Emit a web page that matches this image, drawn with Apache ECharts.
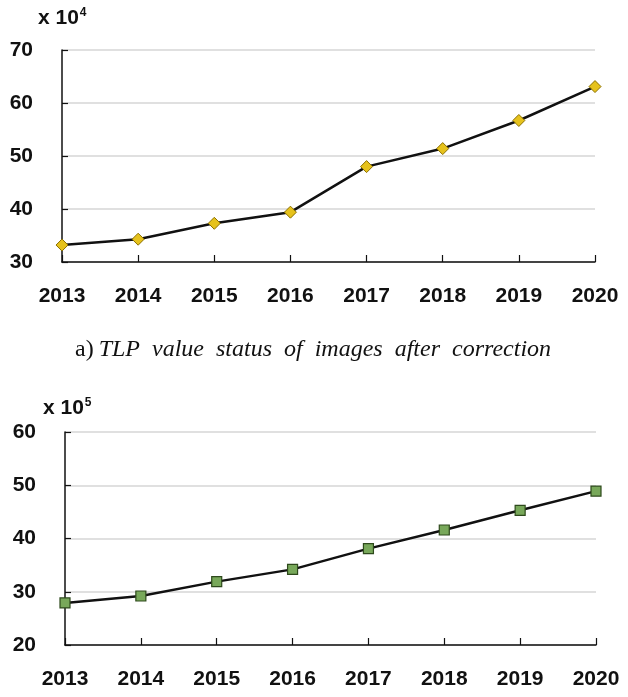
<!DOCTYPE html>
<html>
<head>
<meta charset="utf-8">
<script src="https://cdn.jsdelivr.net/npm/echarts@6/dist/echarts.min.js"></script>
<style>html,body{margin:0;padding:0;background:#fff;}#c{width:628px;height:697px;}</style>
</head>
<body>
<div id="c"></div>
<script>
const years = ['2013','2014','2015','2016','2017','2018','2019','2020'];
const tlpValues = [33.2, 34.3, 37.3, 39.4, 48.0, 51.4, 56.7, 63.1];   // x 10^4
const bottomValues = [27.9, 29.2, 31.9, 34.2, 38.1, 41.6, 45.3, 48.9]; // x 10^5
const topTicks = [30, 40, 50, 60, 70];
const bottomTicks = [20, 30, 40, 50, 60];
const topUnit = ['x 10', '4'];
const bottomUnit = ['x 10', '5'];
const caption = ['a)', 'TLP  value  status  of  images  after  correction'];

const chart = echarts.init(document.getElementById('c'), null, {renderer: 'canvas'});
const sans = 'Liberation Sans';
const labelStyle = {color: '#111', fontFamily: sans, fontWeight: 'bold', fontSize: 21};

function xAxis(gi) {
  return {
    type: 'category', gridIndex: gi, data: years, boundaryGap: false,
    axisLine: {lineStyle: {color: '#111', width: 1.5}},
    axisTick: {show: true, inside: true, length: 7, lineStyle: {color: '#111', width: 1.2}},
    axisLabel: Object.assign({margin: 24}, labelStyle),
    splitLine: {show: false}
  };
}
function yAxis(gi, ticks) {
  return {
    type: 'value', gridIndex: gi, min: ticks[0], max: ticks[ticks.length - 1],
    interval: ticks[1] - ticks[0],
    axisLine: {show: true, lineStyle: {color: '#111', width: 1.5}},
    axisTick: {show: true, inside: true, length: 6, lineStyle: {color: '#111', width: 1.2}},
    axisLabel: Object.assign({margin: 29}, labelStyle),
    splitLine: {show: true, lineStyle: {color: '#d6d6d6', width: 1.5}}
  };
}
const unitRich = {
  b: {fontFamily: sans, fontWeight: 'bold', fontSize: 21, color: '#111'},
  s: {fontFamily: sans, fontWeight: 'bold', fontSize: 12, color: '#111', padding: [0, 0, 11, 1]}
};

chart.setOption({
  animation: false,
  backgroundColor: '#fff',
  title: [
    {text: '{b|' + topUnit[0] + '}{s|' + topUnit[1] + '}', left: 33, top: 2, textStyle: {rich: unitRich}},
    {text: '{b|' + bottomUnit[0] + '}{s|' + bottomUnit[1] + '}', left: 38, top: 392, textStyle: {rich: unitRich}},
    {text: '{n|' + caption[0] + '} {i|' + caption[1] + '}', left: 70, top: 333,
      textStyle: {fontWeight: 'normal', rich: {
        n: {fontFamily: 'Liberation Serif', fontWeight: 'normal', fontSize: 24, color: '#111'},
        i: {fontFamily: 'Liberation Serif', fontWeight: 'normal', fontStyle: 'italic', fontSize: 24, color: '#111'}
      }}}
  ],
  grid: [
    {left: 62, right: 33, top: 50, height: 212},
    {left: 65, right: 32, top: 432, height: 213}
  ],
  xAxis: [xAxis(0), xAxis(1)],
  yAxis: [yAxis(0, topTicks), yAxis(1, bottomTicks)],
  series: [
    {
      type: 'line', xAxisIndex: 0, yAxisIndex: 0, data: tlpValues,
      symbol: 'diamond', symbolSize: 12,
      lineStyle: {color: '#111', width: 2.5},
      itemStyle: {color: '#e6c21c', borderColor: '#8c7000', borderWidth: 1}
    },
    {
      type: 'line', xAxisIndex: 1, yAxisIndex: 1, data: bottomValues,
      symbol: 'rect', symbolSize: 10,
      lineStyle: {color: '#111', width: 2.5},
      itemStyle: {color: '#78a85a', borderColor: '#2e4a1c', borderWidth: 1.2}
    }
  ]
});
</script>
</body>
</html>
